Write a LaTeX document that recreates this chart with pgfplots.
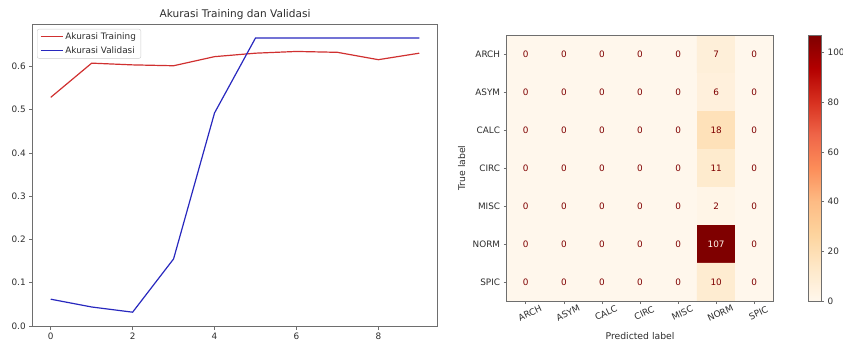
\documentclass[border=0pt]{standalone}
\usepackage{pgfplots}
\pgfplotsset{compat=1.18}
\usepackage{pgfplotstable}
\usepackage{fontspec}
\setmainfont{DejaVu Sans}
\definecolor{trainc}{RGB}{208,48,48}
\definecolor{valc}{RGB}{40,40,190}
\definecolor{framec}{RGB}{110,110,110}
\definecolor{txtc}{RGB}{45,45,45}
\definecolor{cmdark}{RGB}{127,0,0}
\definecolor{cmlight}{RGB}{255,247,236}
\newcommand{\tickfont}{\fontsize{8.9}{10}\selectfont}
\newcommand{\labfont}{\fontsize{9.3}{11}\selectfont}
\newcommand{\titfont}{\fontsize{10.6}{12}\selectfont}

\pgfplotstableread{
x y c
0 0 0
1 0 0
2 0 0
3 0 0
4 0 0
5 0 7
6 0 0
0 1 0
1 1 0
2 1 0
3 1 0
4 1 0
5 1 6
6 1 0
0 2 0
1 2 0
2 2 0
3 2 0
4 2 0
5 2 18
6 2 0
0 3 0
1 3 0
2 3 0
3 3 0
4 3 0
5 3 11
6 3 0
0 4 0
1 4 0
2 4 0
3 4 0
4 4 0
5 4 2
6 4 0
0 5 0
1 5 0
2 5 0
3 5 0
4 5 0
5 5 107
6 5 0
0 6 0
1 6 0
2 6 0
3 6 0
4 6 0
5 6 10
6 6 0
}\cmdata

\pgfplotstableread{
x y c
0 0 0
1 0 0
2 0 0
3 0 0
4 0 0
5 0 7
6 0 0
0 1 0
1 1 0
2 1 0
3 1 0
4 1 0
5 1 6
6 1 0
0 2 0
1 2 0
2 2 0
3 2 0
4 2 0
5 2 18
6 2 0
0 3 0
1 3 0
2 3 0
3 3 0
4 3 0
5 3 11
6 3 0
0 4 0
1 4 0
2 4 0
3 4 0
4 4 0
5 4 2
6 4 0
0 5 0
1 5 0
2 5 0
3 5 0
4 5 0
6 5 0
0 6 0
1 6 0
2 6 0
3 6 0
4 6 0
5 6 10
6 6 0
}\cmtext

\pgfplotstableread{
x y c
5 5 107
}\cmbig

\begin{document}
\begin{tikzpicture}
\useasboundingbox (0,0) rectangle (843bp,343bp);

% ---------- left: accuracy ----------
\begin{axis}[
  at={(32.3bp,16.3bp)}, anchor=south west,
  scale only axis, width=405.4bp, height=302.4bp,
  xmin=-0.45, xmax=9.45, ymin=-0.0015, ymax=0.6967,
  xtick={0,2,4,6,8},
  ytick={0,0.1,0.2,0.3,0.4,0.5,0.6},
  yticklabel style={/pgf/number format/fixed, /pgf/number format/fixed zerofill, /pgf/number format/precision=1},
  /pgf/number format/assume math mode=true,
  tick pos=left, tick align=outside, major tick length=3.1bp,
  tick style={framec, line width=0.6bp},
  axis line style={framec, line width=0.7bp},
  tick label style={font=\tickfont, text=txtc},
  title={Akurasi Training dan Validasi},
  title style={font=\titfont, text=txtc, at={(axis description cs:0.5,1)}, anchor=center, yshift=3.3bp},
  legend style={at={(axis description cs:0.0116,0.9845)}, anchor=north west,
    draw=black!20, fill=white, rounded corners=2bp, font=\tickfont, text=txtc,
    inner xsep=3bp, inner ysep=1.5bp, row sep=1.8bp, cells={anchor=west}},
  legend image code/.code={\draw[#1] (0bp,0bp) -- (20bp,0bp); \path (0bp,0bp) -- (22bp,0bp);},
]
\addplot[trainc, line width=1.2bp] coordinates {
(0,0.528)(1,0.607)(2,0.603)(3,0.601)(4,0.622)(5,0.630)(6,0.634)(7,0.632)(8,0.615)(9,0.630)};
\addlegendentry{Akurasi Training}
\addplot[valc, line width=1.2bp] coordinates {
(0,0.062)(1,0.044)(2,0.032)(3,0.155)(4,0.492)(5,0.665)(6,0.665)(7,0.665)(8,0.665)(9,0.665)};
\addlegendentry{Akurasi Validasi}
\end{axis}

% ---------- right: confusion matrix ----------
\begin{axis}[
  at={(506.7bp,42bp)}, anchor=south west,
  scale only axis, width=266.6bp, height=266bp,
  xmin=-0.5, xmax=6.5, ymin=-0.5, ymax=6.5, y dir=reverse,
  xtick={0,1,2,3,4,5,6}, ytick={0,1,2,3,4,5,6},
  xticklabels={ARCH,ASYM,CALC,CIRC,MISC,NORM,SPIC},
  yticklabels={ARCH,ASYM,CALC,CIRC,MISC,NORM,SPIC},
  tick pos=left, tick align=outside, major tick length=3.1bp,
  tick style={framec, line width=0.6bp},
  axis line style={framec, line width=0.7bp},
  tick label style={font=\tickfont, text=txtc},
  x tick label style={rotate=25, anchor=north, yshift=-3bp},
  xlabel={Predicted label}, ylabel={True label},
  xlabel style={font=\labfont, text=txtc, at={(axis description cs:0.5,0)}, anchor=center, yshift=-35.5bp},
  ylabel style={font=\labfont, text=txtc, at={(axis description cs:-0.1688,0.5)}, anchor=center},
  colormap={OrRd}{rgb255=(255,247,236) rgb255=(254,232,200) rgb255=(253,212,158) rgb255=(253,187,132) rgb255=(252,141,89) rgb255=(239,101,72) rgb255=(215,48,31) rgb255=(179,0,0) rgb255=(127,0,0)},
  point meta min=0, point meta max=107,
  colorbar,
  colorbar style={
    at={(parent axis.north east)}, anchor=north west, xshift=26.2bp,
    scale only axis, width=13bp, height=266bp,
    ymin=0, ymax=107, ytick={0,20,40,60,80,100},
    tick pos=right, tick align=outside, major tick length=3.1bp,
    tick style={framec, line width=0.6bp},
    axis line style={framec, line width=0.7bp},
    tick label style={font=\tickfont, text=txtc},
    /pgf/number format/assume math mode=true,
  },
  axis on top,
]
\addplot[matrix plot*, mesh/cols=7, point meta=explicit] table[meta=c]{\cmdata};
\addplot[draw=none, mark=none, nodes near coords, point meta=explicit symbolic,
  every node near coord/.append style={font=\tickfont, text=cmdark, anchor=center}] table[meta=c]{\cmtext};
\addplot[draw=none, mark=none, nodes near coords, point meta=explicit symbolic,
  every node near coord/.append style={font=\tickfont, text=cmlight, anchor=center}] table[meta=c]{\cmbig};
\end{axis}
\end{tikzpicture}
\end{document}
